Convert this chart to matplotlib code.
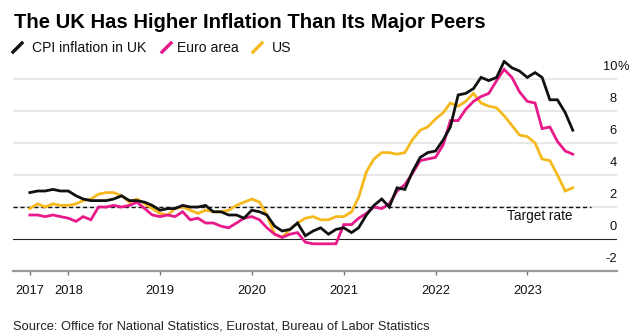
import matplotlib
matplotlib.use("Agg")
import matplotlib.pyplot as plt
import matplotlib.dates as mdates
from matplotlib.lines import Line2D
import pandas as pd

plt.rcParams['font.family'] = ['Liberation Sans', 'DejaVu Sans']

# monthly annual inflation rates, Aug 2017 - Jul 2023
months = pd.date_range('2017-08-01', periods=72, freq='MS')
uk_cpi = [2.9, 3.0, 3.0, 3.1, 3.0,
          3.0, 2.7, 2.5, 2.4, 2.4, 2.4, 2.5, 2.7, 2.4, 2.4, 2.3, 2.1,
          1.8, 1.9, 1.9, 2.1, 2.0, 2.0, 2.1, 1.7, 1.7, 1.5, 1.5, 1.3,
          1.8, 1.7, 1.5, 0.8, 0.5, 0.6, 1.0, 0.2, 0.5, 0.7, 0.3, 0.6,
          0.7, 0.4, 0.7, 1.5, 2.1, 2.5, 2.0, 3.2, 3.1, 4.2, 5.1, 5.4,
          5.5, 6.2, 7.0, 9.0, 9.1, 9.4, 10.1, 9.9, 10.1, 11.1, 10.7, 10.5,
          10.1, 10.4, 10.1, 8.7, 8.7, 7.9, 6.8]
euro_area = [1.5, 1.5, 1.4, 1.5, 1.4,
             1.3, 1.1, 1.4, 1.2, 2.0, 2.0, 2.1, 2.0, 2.1, 2.3, 1.9, 1.5,
             1.4, 1.5, 1.4, 1.7, 1.2, 1.3, 1.0, 1.0, 0.8, 0.7, 1.0, 1.3,
             1.4, 1.2, 0.7, 0.3, 0.1, 0.3, 0.4, -0.2, -0.3, -0.3, -0.3, -0.3,
             0.9, 0.9, 1.3, 1.6, 2.0, 1.9, 2.2, 3.0, 3.4, 4.1, 4.9, 5.0,
             5.1, 5.9, 7.4, 7.4, 8.1, 8.6, 8.9, 9.1, 9.9, 10.6, 10.1, 9.2,
             8.6, 8.5, 6.9, 7.0, 6.1, 5.5, 5.3]
us_cpi = [1.9, 2.2, 2.0, 2.2, 2.1,
          2.1, 2.2, 2.4, 2.5, 2.8, 2.9, 2.9, 2.7, 2.3, 2.5, 2.2, 1.9,
          1.6, 1.5, 1.9, 2.0, 1.8, 1.6, 1.8, 1.7, 1.7, 1.8, 2.1, 2.3,
          2.5, 2.3, 1.5, 0.3, 0.1, 0.6, 1.0, 1.3, 1.4, 1.2, 1.2, 1.4,
          1.4, 1.7, 2.6, 4.2, 5.0, 5.4, 5.4, 5.3, 5.4, 6.2, 6.8, 7.0,
          7.5, 7.9, 8.5, 8.3, 8.6, 9.1, 8.5, 8.3, 8.2, 7.7, 7.1, 6.5,
          6.4, 6.0, 5.0, 4.9, 4.0, 3.0, 3.2]

series_names = ['CPI inflation in UK', 'Euro area', 'US']
series_colors = ['#111111', '#e8198b', '#f5b91e']
target_rate = 2
y_ticks = [-2, 0, 2, 4, 6, 8, 10]
x_tick_dates = pd.to_datetime(['2017-08-01', '2018-01-01', '2019-01-01', '2020-01-01',
                               '2021-01-01', '2022-01-01', '2023-01-01'])
x_tick_labels = ['2017', '2018', '2019', '2020', '2021', '2022', '2023']

fig = plt.figure(figsize=(6.36, 3.36), dpi=100)
ax = fig.add_axes([13 / 636, 65 / 336, 604 / 636, 211.2 / 336])

ax.set_xlim(pd.Timestamp('2017-05-26'), pd.Timestamp('2023-12-24'))
ax.set_ylim(-2, 11.2)

# grid and reference lines
for v in y_ticks[1:]:
    if v == 0:
        ax.axhline(v, color='#222222', lw=0.8, zorder=2)
    else:
        ax.axhline(v, color='#e2e2e2', lw=1.1, zorder=1)
ax.plot([pd.Timestamp('2017-05-26'), pd.Timestamp('2023-09-10')], [target_rate, target_rate],
        color='#111111', lw=1.0, ls=(0, (3, 2)), zorder=2)

for vals, col in zip([us_cpi, euro_area, uk_cpi], series_colors[::-1]):
    ax.plot(months, vals, color=col, lw=2.0, zorder=3, solid_joinstyle='miter')

# right-hand value labels sitting above their gridlines
for v in y_ticks:
    ax.annotate(str(v), xy=(1, v), xycoords=('axes fraction', 'data'), xytext=(0, 6.5),
                textcoords='offset points', ha='right', va='baseline', fontsize=9.3, color='#111111')
ax.annotate('%', xy=(1, 10), xycoords=('axes fraction', 'data'), xytext=(0, 6.5),
            textcoords='offset points', ha='left', va='baseline', fontsize=9.3, color='#111111')

ax.annotate('Target rate', xy=(pd.Timestamp('2023-06-28'), target_rate), xytext=(0, -9.5),
            textcoords='offset points', ha='right', va='baseline', fontsize=9.8, color='#111111')

for s in ['top', 'right', 'left']:
    ax.spines[s].set_visible(False)
ax.spines['bottom'].set_color('#9a9a9a')
ax.spines['bottom'].set_linewidth(1.6)
ax.set_yticks([])
ax.set_xticks(x_tick_dates)
ax.set_xticklabels(x_tick_labels)
ax.tick_params(axis='x', length=3, width=1, color='#777777', pad=7.2, labelsize=9.3,
               labelcolor='#111111')

# title, legend and source
fig.text(14 / 636, 1 - 28.3 / 336, 'The UK Has Higher Inflation Than Its Major Peers',
         fontsize=14.6, fontweight='bold', va='baseline', ha='left', color='#000000')

leg_marks = [13, 162, 253]
leg_texts = [32, 177, 272]
for name, col, mx, tx in zip(series_names, series_colors, leg_marks, leg_texts):
    fig.add_artist(Line2D([mx / 636, (mx + 9) / 636], [1 - 52 / 336, 1 - 43 / 336],
                          color=col, lw=2.4, transform=fig.transFigure))
    fig.text(tx / 636, 1 - 52.3 / 336, name, fontsize=10.1, va='baseline', ha='left', color='#111111')

fig.text(13 / 636, 1 - 329.3 / 336,
         'Source: Office for National Statistics, Eurostat, Bureau of Labor Statistics',
         fontsize=9.3, va='baseline', ha='left', color='#222222')

fig.savefig('out.png', dpi=100)
